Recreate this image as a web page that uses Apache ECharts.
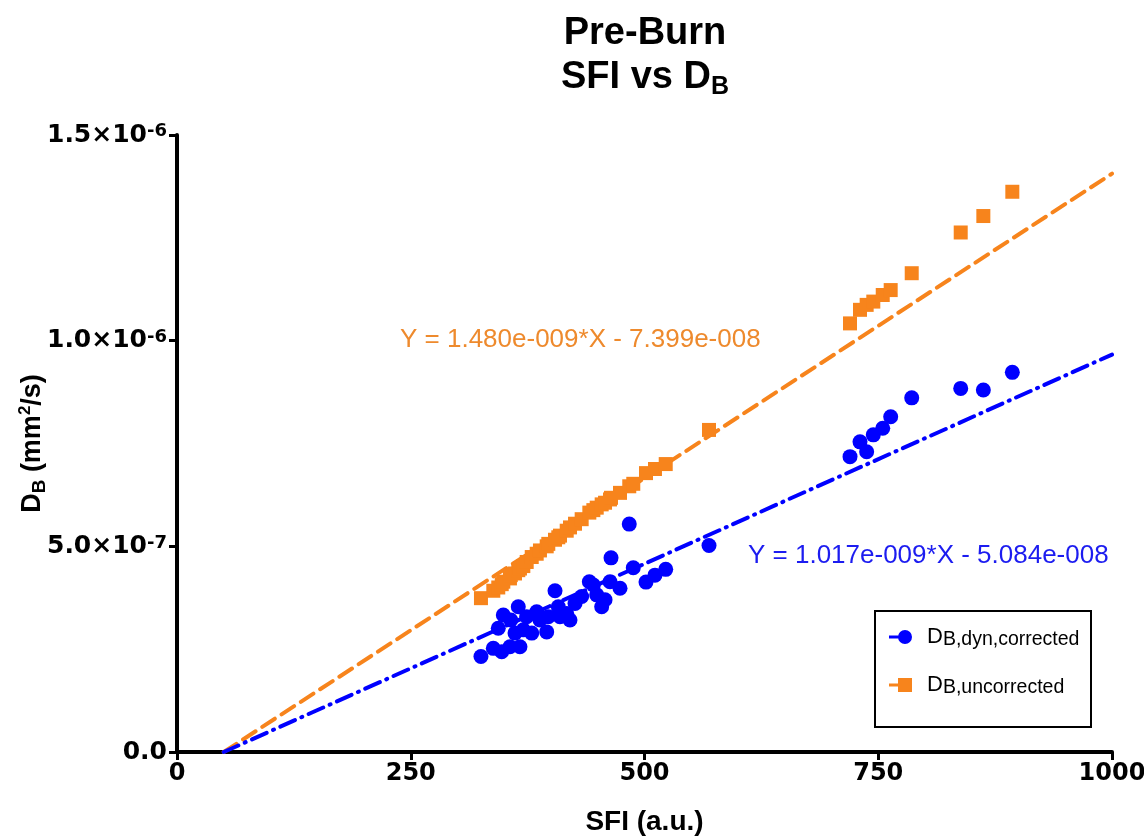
<!DOCTYPE html>
<html><head><meta charset="utf-8">
<script src="https://cdn.jsdelivr.net/npm/echarts@6/dist/echarts.min.js"></script>
<style>html,body{margin:0;padding:0;background:#fff}#c{width:1144px;height:837px}</style>
</head><body><div id="c"></div>
<script>
// Shared SFI values (a.u.) for both series
const sfi = [325.1, 338.3, 343.6, 347.3, 349.0, 356.1, 357.0, 361.5, 365.0, 366.8,
  370.4, 374.0, 379.4, 384.7, 388.2, 395.4, 397.1, 404.3, 407.8, 409.6,
  416.8, 420.3, 425.7, 432.8, 441.0, 445.3, 448.9, 454.2, 457.8, 463.1,
  464.2, 473.8, 483.7, 488.0, 501.6, 511.2, 522.7, 569.0, 719.8, 730.5,
  737.6, 744.7, 754.8, 763.3, 785.8, 838.2, 862.4, 893.4];
// D_B, dyn, corrected (mm^2/s)
const dbCorrected = [2.32e-7, 2.52e-7, 3.01e-7, 2.44e-7, 3.33e-7, 2.56e-7, 3.21e-7, 2.89e-7, 3.53e-7, 2.56e-7,
  2.97e-7, 3.29e-7, 2.89e-7, 3.41e-7, 3.21e-7, 2.92e-7, 3.29e-7, 3.92e-7, 3.53e-7, 3.29e-7,
  3.37e-7, 3.21e-7, 3.61e-7, 3.78e-7, 4.14e-7, 4.06e-7, 3.82e-7, 3.53e-7, 3.70e-7, 4.14e-7,
  4.72e-7, 3.98e-7, 5.54e-7, 4.48e-7, 4.13e-7, 4.30e-7, 4.44e-7, 5.02e-7, 7.18e-7, 7.54e-7,
  7.30e-7, 7.71e-7, 7.87e-7, 8.15e-7, 8.61e-7, 8.84e-7, 8.80e-7, 9.23e-7];
// D_B, uncorrected (mm^2/s)
const dbUncorrected = [3.74e-7, 3.92e-7, 4.00e-7, 4.08e-7, 4.14e-7, 4.22e-7, 4.30e-7, 4.34e-7, 4.42e-7, 4.46e-7,
  4.52e-7, 4.62e-7, 4.74e-7, 4.82e-7, 4.90e-7, 5.00e-7, 5.06e-7, 5.16e-7, 5.22e-7, 5.26e-7,
  5.38e-7, 5.46e-7, 5.55e-7, 5.66e-7, 5.82e-7, 5.88e-7, 5.94e-7, 6.02e-7, 6.06e-7, 6.14e-7,
  6.18e-7, 6.30e-7, 6.46e-7, 6.52e-7, 6.78e-7, 6.88e-7, 7.00e-7, 7.83e-7, 10.42e-7, 10.75e-7,
  10.87e-7, 10.95e-7, 11.11e-7, 11.23e-7, 11.64e-7, 12.63e-7, 13.03e-7, 13.62e-7];
// Linear fits: [corrected, uncorrected]
const fitSlopes = [1.017e-9, 1.480e-9];
const fitIntercepts = [-5.084e-8, -7.399e-8];
const fitLabels = ['Y = 1.017e-009*X - 5.084e-008', 'Y = 1.480e-009*X - 7.399e-008'];
const xTickLabels = ['0', '250', '500', '750', '1000'];
const yTickLabels = ['0.0', '5.0×10{sup|-7}', '1.0×10{sup|-6}', '1.5×10{sup|-6}'];
const seriesNames = ['D_B,dyn,corrected', 'D_B,uncorrected'];

const BLUE = '#0000FF', ORANGE = '#F7841C';
const FONT = '"Liberation Sans", Arial, sans-serif';
const TICKFONT = '"DejaVu Sans", "Liberation Sans", sans-serif';

function fitLine(i) {
  const x0 = -fitIntercepts[i] / fitSlopes[i];
  return [[x0, 0], [1000, fitSlopes[i] * 1000 + fitIntercepts[i]]];
}

const chart = echarts.init(document.getElementById('c'), null, {renderer: 'canvas'});
chart.setOption({
  animation: false,
  backgroundColor: '#fff',
  grid: {left: 177, right: 32, top: 135, bottom: 85, containLabel: false, outerBoundsMode: 'none'},
  xAxis: {
    type: 'value', min: 0, max: 1000, interval: 250,
    name: 'SFI (a.u.)', nameLocation: 'middle', nameGap: 56,
    nameTextStyle: {fontFamily: FONT, fontWeight: 'bold', fontSize: 28, color: '#000'},
    axisLine: {lineStyle: {color: '#000', width: 4}},
    axisTick: {length: 8, lineStyle: {color: '#000', width: 3}},
    splitLine: {show: false},
    axisLabel: {fontFamily: TICKFONT, fontWeight: 'bold', fontSize: 24, color: '#000', margin: 10,
      formatter: (v) => xTickLabels[Math.round(v / 250)]}
  },
  yAxis: {
    type: 'value', min: 0, max: 1.5e-6, interval: 5e-7,
    name: '{d|D}{s|B}{d| (mm}{sp|2}{d|/s)}', nameLocation: 'middle', nameGap: 128,
    nameMoveOverlap: false,
    nameTextStyle: {rich: {
      d: {fontFamily: FONT, fontWeight: 'bold', fontSize: 27, color: '#000', lineHeight: 32},
      s: {fontFamily: FONT, fontWeight: 'bold', fontSize: 19, color: '#000', verticalAlign: 'bottom', lineHeight: 14},
      sp: {fontFamily: FONT, fontWeight: 'bold', fontSize: 17, color: '#000', verticalAlign: 'top', lineHeight: 18}
    }},
    axisLine: {show: true, lineStyle: {color: '#000', width: 4}},
    axisTick: {show: true, length: 8, lineStyle: {color: '#000', width: 3}},
    splitLine: {show: false},
    axisLabel: {margin: 10, formatter: (v) => yTickLabels[Math.round(v / 5e-7)],
      fontFamily: TICKFONT, fontWeight: 'bold', fontSize: 25, color: '#000',
      rich: {sup: {fontFamily: TICKFONT, fontWeight: 'bold', fontSize: 18, color: '#000', verticalAlign: 'top', lineHeight: 16}}}
  },
  legend: {
    left: 884, top: 621, orient: 'vertical', itemGap: 24,
    itemWidth: 23, itemHeight: 14,
    data: [
      {name: seriesNames[0], icon: 'path://M0,5.5 L10,5.5 L10,8.5 L0,8.5 Z M9,7 A7,7 0 1 1 23,7 A7,7 0 1 1 9,7 Z'},
      {name: seriesNames[1], icon: 'path://M0,5.5 L9,5.5 L9,8.5 L0,8.5 Z M9,0 L23,0 L23,14 L9,14 Z'}
    ],
    formatter: (n) => '{d|D}{s|' + n.slice(2) + '}',
    textStyle: {rich: {
      d: {fontFamily: FONT, fontSize: 22, color: '#000', lineHeight: 26, padding: [0, 0, 0, 10]},
      s: {fontFamily: FONT, fontSize: 19.5, color: '#000', verticalAlign: 'bottom', lineHeight: 12}
    }}
  },
  graphic: [
    {type: 'text', x: 645, y: 12, style: {
      text: '{t|Pre-Burn}\n{t|SFI vs D}{s|B}', align: 'center',
      rich: {
        t: {fontFamily: FONT, fontWeight: 'bold', fontSize: 38, color: '#000', lineHeight: 44, align: 'center'},
        s: {fontFamily: FONT, fontWeight: 'bold', fontSize: 25, color: '#000', verticalAlign: 'bottom', lineHeight: 16}
      }}},
    {type: 'text', x: 400, y: 340, style: {text: fitLabels[1], fontFamily: FONT, fontSize: 26, fill: '#EE8A2D', verticalAlign: 'middle'}},
    {type: 'text', x: 748, y: 556, style: {text: fitLabels[0], fontFamily: FONT, fontSize: 26, fill: '#1C1CF0', verticalAlign: 'middle'}},
    {type: 'rect', shape: {x: 875, y: 611, width: 216, height: 116}, style: {fill: 'none', stroke: '#000', lineWidth: 2}, z: 10}
  ],
  series: [
    {name: seriesNames[1] + ' fit', type: 'line', data: fitLine(1), symbol: 'none', z: 3,
      lineStyle: {color: ORANGE, width: 4, type: [15, 8], cap: 'round'}, silent: true},
    {name: seriesNames[0] + ' fit', type: 'line', data: fitLine(0), symbol: 'none', z: 3,
      lineStyle: {color: BLUE, width: 4, type: [16, 7, 1, 7], cap: 'round'}, silent: true},
    {name: seriesNames[1], type: 'scatter', symbol: 'rect', symbolSize: 14, z: 4,
      itemStyle: {color: ORANGE, opacity: 1},
      data: sfi.map((x, i) => [x, dbUncorrected[i]])},
    {name: seriesNames[0], type: 'scatter', symbol: 'circle', symbolSize: 15, z: 4,
      itemStyle: {color: BLUE, opacity: 1},
      data: sfi.map((x, i) => [x, dbCorrected[i]])}
  ]
});
</script></body></html>
